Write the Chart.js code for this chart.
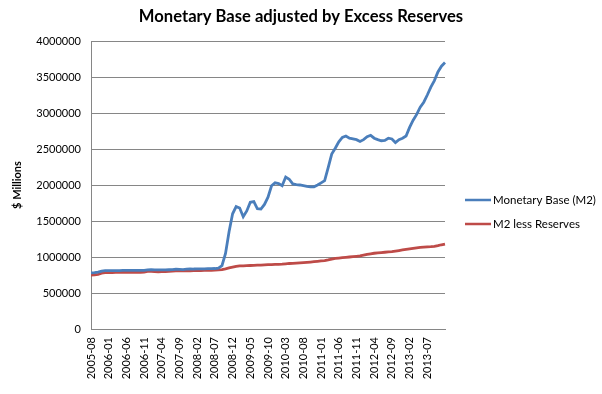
<!DOCTYPE html>
<html><head><meta charset="utf-8">
<script src="https://cdn.jsdelivr.net/npm/chart.js@4"></script>
<style>html,body{margin:0;padding:0;background:#fff}#c{display:block}</style>
</head><body>
<canvas id="c" width="602" height="394"></canvas>
<script>
const startYear = 2005, startMonth = 8, monthCount = 101;
const categories = [];
for (let i = 0; i < monthCount; i++) {
  const m = startMonth - 1 + i;
  const y = startYear + Math.floor(m / 12);
  const mm = (m % 12) + 1;
  categories.push(y + '-' + (mm < 10 ? '0' + mm : mm));
}
const monetaryBase = [
  780000,782000,790000,805000,810000,810000,810000,812000,812000,813000,
  813000,814000,814000,813000,814000,815000,820000,825000,822000,820000,
  822000,822000,823000,825000,830000,828000,826000,832000,835000,833000,
  834000,835000,836000,838000,838000,840000,845000,880000,1050000,1350000,
  1600000,1700000,1680000,1560000,1640000,1760000,1770000,1670000,1665000,1730000,
  1830000,1990000,2030000,2020000,1990000,2110000,2080000,2015000,2005000,2000000,
  1990000,1980000,1975000,1975000,2000000,2030000,2060000,2240000,2430000,2510000,
  2600000,2660000,2680000,2650000,2640000,2630000,2605000,2630000,2670000,2690000,
  2650000,2630000,2615000,2620000,2650000,2640000,2590000,2630000,2650000,2680000,
  2800000,2900000,2980000,3080000,3150000,3250000,3360000,3450000,3570000,3650000,
  3700000
];
const m2LessReserves = [
  750000,752000,760000,775000,782000,785000,785000,786000,786000,787000,
  787000,788000,788000,787000,788000,790000,800000,802000,798000,795000,
  796000,797000,800000,805000,806000,806000,807000,808000,809000,810000,
  810000,812000,813000,815000,816000,818000,820000,825000,835000,848000,
  860000,870000,876000,878000,880000,882000,885000,887000,888000,890000,
  893000,895000,897000,898000,900000,905000,910000,912000,915000,918000,
  922000,926000,930000,935000,940000,945000,950000,960000,972000,980000,
  985000,990000,995000,1000000,1005000,1010000,1015000,1025000,1035000,1045000,
  1052000,1058000,1062000,1066000,1070000,1075000,1083000,1090000,1098000,1105000,
  1112000,1120000,1128000,1133000,1137000,1140000,1143000,1148000,1158000,1170000,
  1180000
];
const seriesNames = ['Monetary Base (M2)', 'M2 less Reserves'];
const seriesColors = ['#4A7EBB', '#BE4B48'];
const yTicks = [0,500000,1000000,1500000,2000000,2500000,3000000,3500000,4000000];
const titleText = 'Monetary Base adjusted by Excess Reserves';
const yTitle = '$ Millions';

const FONT = 'Lato, "Open Sans", sans-serif';

const extras = {
  id: 'extras',
  afterDraw(chart) {
    const ctx = chart.ctx;
    ctx.save();
    ctx.fillStyle = '#000';
    ctx.font = 'bold 16.6px ' + FONT;
    ctx.textAlign = 'center';
    ctx.textBaseline = 'middle';
    ctx.fillText(titleText, 301, 17);
    // legend
    ctx.font = '11.5px ' + FONT;
    ctx.textAlign = 'left';
    const ys = [200, 224];
    for (let i = 0; i < 2; i++) {
      ctx.strokeStyle = seriesColors[i];
      ctx.lineWidth = 2.5;
      ctx.beginPath();
      ctx.moveTo(465, ys[i]);
      ctx.lineTo(491, ys[i]);
      ctx.stroke();
      ctx.fillStyle = '#000';
      ctx.fillText(seriesNames[i], 493, ys[i]);
    }
    ctx.restore();
  }
};

new Chart(document.getElementById('c'), {
  type: 'line',
  data: {
    labels: categories,
    datasets: [
      { label: seriesNames[0], data: monetaryBase, borderColor: seriesColors[0], borderWidth: 2.8, pointRadius: 0, tension: 0, fill: false },
      { label: seriesNames[1], data: m2LessReserves, borderColor: seriesColors[1], borderWidth: 2.8, pointRadius: 0, tension: 0, fill: false }
    ]
  },
  options: {
    responsive: false,
    animation: false,
    layout: { padding: { top: 41, right: 157, left: 0, bottom: 0 } },
    plugins: { legend: { display: false }, title: { display: false }, tooltip: { enabled: false } },
    scales: {
      x: {
        type: 'category',
        offset: false,
        grid: { display: false, drawTicks: false },
        border: { display: true, color: '#868686', width: 1 },
        afterFit(s) { s.height = 65; },
        ticks: {
          autoSkip: false, maxRotation: 90, minRotation: 90, padding: 8,
          color: '#000', font: { family: FONT, size: 11 },
          callback(v, i) { return (i % 5 === 0 && i < 100) ? categories[i] : null; }
        }
      },
      y: {
        min: 0, max: 4000000,
        afterFit(s) { s.width = 91; },
        afterBuildTicks(s) { s.ticks = yTicks.map(v => ({ value: v })); },
        grid: { color: '#868686', drawTicks: false, lineWidth: 1 },
        border: { display: true, color: '#868686', width: 1 },
        title: { display: true, text: yTitle, color: '#000', font: { family: FONT, size: 11, weight: 'bold' }, padding: { top: 11, bottom: 0 } },
        ticks: { padding: 10, color: '#000', font: { family: FONT, size: 11 }, callback(v) { return String(v); } }
      }
    }
  },
  plugins: [extras]
});
</script>
</body></html>
